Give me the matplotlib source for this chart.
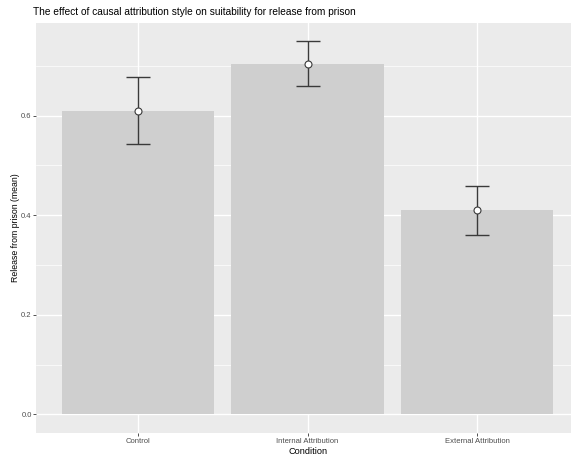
import numpy as np
import matplotlib.pyplot as plt

plt.rcParams['font.family'] = ['Liberation Sans', 'DejaVu Sans']

conditions = ['Control', 'Internal Attribution', 'External Attribution']
means = [0.609, 0.704, 0.410]
upper = [0.677, 0.749, 0.458]
lower = [0.542, 0.659, 0.361]

x = np.arange(1, len(conditions) + 1)
err = [np.array(means) - np.array(lower), np.array(upper) - np.array(means)]

fig = plt.figure(figsize=(5.71, 4.58), dpi=100)
ax = fig.add_axes([0.0639, 0.0546, 0.9496, 0.8952])
ax.set_facecolor('#EBEBEB')

# grid ggplot-like
ax.set_yticks([0.0, 0.2, 0.4, 0.6])
ax.set_yticks([0.1, 0.3, 0.5, 0.7], minor=True)
ax.set_xticks(x)
ax.grid(True, which='major', color='white', lw=1.0)
ax.grid(True, which='minor', axis='y', color='white', lw=0.5)
ax.set_axisbelow(True)

ax.bar(x, means, width=0.9, color='#CFCFCF', zorder=2)
ax.errorbar(x, means, yerr=err, fmt='none', ecolor='#3A3A3A', elinewidth=1.0,
            capsize=8.5, capthick=1.0, zorder=3)
ax.plot(x, means, 'o', ms=5, mfc='white', mec='#3A3A3A', mew=0.8, zorder=4)

ax.set_xlim(0.4, 3.6)
ax.set_ylim(-0.0375, 0.786)
ax.set_xticklabels(conditions)
ax.set_yticklabels(['0.0', '0.2', '0.4', '0.6'])
ax.tick_params(which='major', length=2, width=0.6, color='#333333',
               labelsize=5.5, labelcolor='#4D4D4D', pad=1.5)
ax.tick_params(which='minor', length=0)
for s in ax.spines.values():
    s.set_visible(False)

ax.set_xlabel('Condition', fontsize=6.6, labelpad=1.5)
ax.set_ylabel('Release from prison (mean)', fontsize=6.3, labelpad=1)
fig.text(0.058, 0.967, 'The effect of causal attribution style on suitability for release from prison',
         fontsize=7.3, ha='left', va='baseline')

fig.savefig('out.png', dpi=100)
